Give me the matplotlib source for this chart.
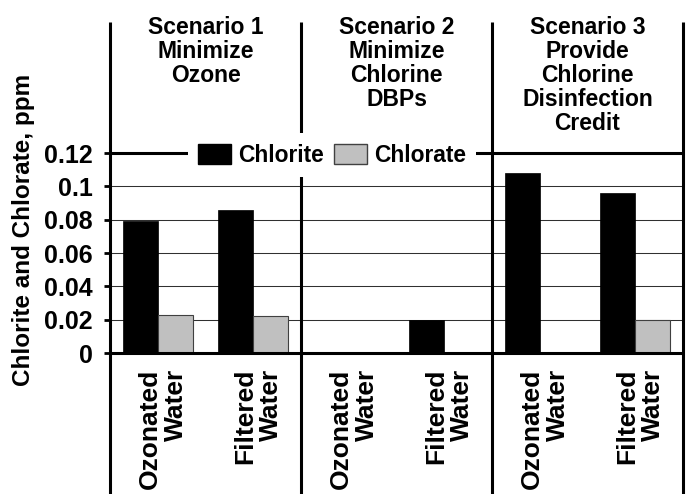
import matplotlib
matplotlib.use("Agg")
import matplotlib.pyplot as plt
import numpy as np
from matplotlib.patches import Patch

plt.rcParams['font.family'] = ['Liberation Sans', 'DejaVu Sans']
plt.rcParams['font.weight'] = 'bold'

# ---- data ----
categories = ["Ozonated\nWater", "Filtered\nWater",
              "Ozonated\nWater", "Filtered\nWater",
              "Ozonated\nWater", "Filtered\nWater"]
scenarios = ["Scenario 1\nMinimize\nOzone",
             "Scenario 2\nMinimize\nChlorine\nDBPs",
             "Scenario 3\nProvide\nChlorine\nDisinfection\nCredit"]
chlorite = [0.079, 0.086, 0.0, 0.020, 0.108, 0.096]
chlorate = [0.023, 0.022, 0.0, 0.0, 0.0, 0.020]
yticks = [0, 0.02, 0.04, 0.06, 0.08, 0.1, 0.12]
yticklabels = ["0", "0.02", "0.04", "0.06", "0.08", "0.1", "0.12"]
series_names = ["Chlorite", "Chlorate"]

W, H = 686, 494
fig = plt.figure(figsize=(W / 100, H / 100), dpi=100)
left_px, right_px = 110, 683
ax = fig.add_axes([left_px / W, 0, (right_px - left_px) / W, 1])

zero_px, top_px = 353, 153  # pixel rows of 0 and 0.12
s = 0.12 / (zero_px - top_px)
ymin = -(H - zero_px) * s
ymax = zero_px * s
ax.set_ylim(ymin, ymax)
ax.set_xlim(-0.5, len(categories) - 0.5)

x = np.arange(len(categories))
w = 0.366
ax.bar(x - w / 2, chlorite, w, color='black', edgecolor='black', linewidth=0.5, zorder=3)
ax.bar(x + w / 2, chlorate, w, color='#c0c0c0', edgecolor='#404040', linewidth=0.8, zorder=3)

# grid lines
ax.hlines(yticks[1:-1], -0.5, len(categories) - 0.5, colors='#303030', linewidth=0.75, zorder=1)
# thick frame lines
line_top = (zero_px - 22) * s
ax.hlines([0, 0.12], -0.5, len(categories) - 0.5, colors='black', linewidth=2.2, zorder=4)
ax.vlines([-0.5, 1.5, 3.5, 5.5], ymin, line_top, colors='black', linewidth=2.2, zorder=4, clip_on=False)

for sp in ax.spines.values():
    sp.set_visible(False)
ax.set_xticks([])
ax.set_yticks(yticks)
ax.set_yticklabels(yticklabels)
ax.tick_params(axis='y', length=4.5, width=2, pad=8, labelsize=18)

# category labels
for xi, lab in zip(x, categories):
    ax.text(xi + 0.05, -16 * s, lab, rotation=90, ha='center', va='top',
            multialignment='right', fontsize=19, linespacing=1.1, fontweight='bold')

# scenario titles
for i, t in enumerate(scenarios):
    ax.text(2 * i + 0.5, (zero_px - 16) * s, t, ha='center', va='top',
            fontsize=16.5, linespacing=1.06, fontweight='bold')

fig.text(24 / W, 1 - 230 / H, "Chlorite and Chlorate, ppm", rotation=90,
         ha='center', va='center', fontsize=17.5, fontweight='bold')

handles = [Patch(facecolor='black', edgecolor='black', label=series_names[0]),
           Patch(facecolor='#c0c0c0', edgecolor='#404040', label=series_names[1])]
leg = ax.legend(handles=handles, ncol=2, loc='center',
                bbox_to_anchor=(332 / W, 1 - 155 / H), bbox_transform=fig.transFigure,
                fontsize=16.4, handlelength=1.45, handleheight=1.0, handletextpad=0.3,
                columnspacing=0.45, frameon=True, fancybox=False, borderpad=0.45,
                borderaxespad=0)
leg.get_frame().set_facecolor('white')
leg.get_frame().set_edgecolor('none')
leg.get_frame().set_alpha(1)
leg.set_zorder(10)
for t in leg.get_texts():
    t.set_fontweight('bold')

fig.savefig("out.png", dpi=100)
